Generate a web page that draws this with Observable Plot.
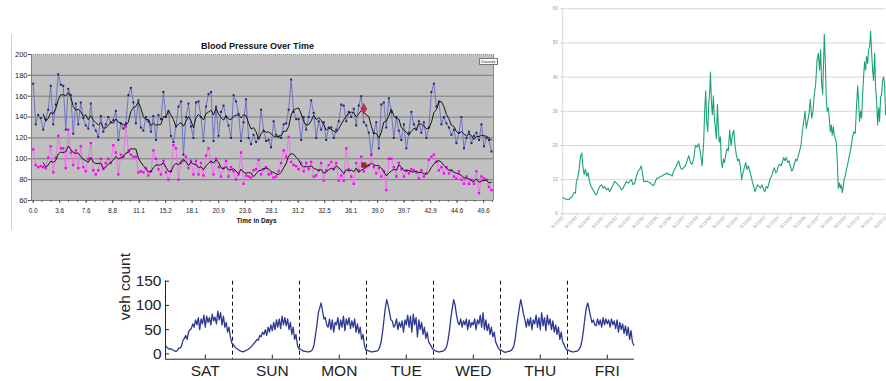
<!DOCTYPE html>
<html><head><meta charset="utf-8">
<script src="https://cdn.jsdelivr.net/npm/d3@7"></script>
<script src="https://cdn.jsdelivr.net/npm/@observablehq/plot@0.6"></script>
<style>
body{margin:0;background:#fff;width:886px;height:381px;position:relative;overflow:hidden;font-family:Arial,"Liberation Sans",sans-serif}
.abs{position:absolute}
svg{overflow:visible}
</style></head><body>
<div class="abs" style="left:11px;top:34px;height:196px;border-left:1px solid #cfcfcf"></div>
<div id="c1" class="abs" style="left:0;top:30px"></div>
<div class="abs" style="left:479px;top:58px;width:17px;height:5px;border:1px solid #777;background:#fff;font-size:4px;line-height:5px;color:#333;text-align:center;overflow:hidden">Diastolic</div>
<div id="c2" class="abs" style="left:540px;top:0"></div>
<div id="c3" class="abs" style="left:100px;top:265px"></div>
<script>
// ---------- Chart 1: Blood pressure ----------
const bpTitle = "Blood Pressure Over Time";
const bpXTitle = "Time in Days";
const timeLabels = ["0.0","3.6","7.6","8.8","11.1","15.2","18.1","20.9","23.6","28.1","31.2","32.5","36.1","39.0","39.7","42.9","44.6","49.6"];
const bpTicks = [60,80,100,120,140,160,180,200];
const systolic = [
172,133,142,139,128,138,147,170,133,152,
181,171,170,128,167,161,124,153,133,154,
139,132,129,153,132,127,121,141,126,133,
140,135,137,146,118,134,129,134,161,168,
154,134,156,130,127,140,136,126,141,118,
142,138,164,140,146,122,116,131,150,155,
104,140,153,131,120,154,155,140,117,150,
162,164,117,150,122,145,151,140,132,120,
161,155,143,117,135,157,120,114,123,116,
120,147,127,117,118,111,136,123,121,120,
133,134,147,176,145,138,
138,118,140,128,140,156,144,120,136,128,
135,118,130,130,120,128,136,152,151,136,
145,140,148,132,151,160,135,132,125,104,
125,135,110,152,154,130,158,145,120,140,
127,118,133,110,125,145,133,128,136,125,
135,120,130,164,172,150,155,133,140,134,
130,123,128,115,125,140,110,120,126,115,
122,125,118,133,112,120,118,107];
const diastolic = [
109,94,92,93,92,91,101,112,87,101,
122,110,110,91,128,106,94,108,91,112,
92,88,100,115,89,85,89,100,90,96,
100,96,113,106,85,104,102,131,108,104,
102,102,87,88,87,91,84,88,108,100,
90,85,98,87,80,88,113,110,80,96,
98,102,91,98,85,98,85,96,84,103,
110,97,85,100,92,83,91,98,83,92,
88,80,85,106,76,84,83,82,89,90,
99,85,90,92,85,86,82,83,88,96,
108,102,121,97,94,93,
90,96,88,96,90,97,83,84,89,96,
79,89,94,97,90,96,79,84,79,110,
90,83,76,96,89,102,88,92,94,104,
92,86,91,83,88,70,100,100,92,83,
96,90,83,89,86,90,89,87,81,89,
83,86,99,102,104,97,89,92,86,92,
86,89,83,81,88,80,76,83,76,80,
76,88,67,83,81,80,73,70];
const sysHighlight = [{i: 132, v: 148}];
const diaHighlight = [{i: 132, v: 94}];

const N = systolic.length;
const idx = (d, i) => i;
const xLo = -0.68, xHi = N - 1 + 0.8;
const labelStep = 10.58;
const xTickPos = timeLabels.map((_, k) => k * labelStep);
const xMinor = d3.range(0, xHi, labelStep / 3);
const c1 = Plot.plot({
  width: 510, height: 200,
  marginLeft: 31, marginRight: 17, marginTop: 24, marginBottom: 30,
  style: {fontFamily: "Arial, 'Liberation Sans', sans-serif", color: "#222", background: "transparent"},
  x: {type: "linear", domain: [xLo, xHi], label: null},
  y: {type: "linear", domain: [60, 200], label: null},
  marks: [
    Plot.frame({fill: "#c0c0c0", stroke: null}),
    Plot.ruleY(bpTicks.slice(1, -1), {stroke: "#7c7c7c", strokeWidth: 1}),
    Plot.ruleY([200], {stroke: "#8a8a8a", strokeDasharray: "1,1"}),
    Plot.ruleX([xHi], {stroke: "#8a8a8a"}),
    Plot.lineY(systolic, {x: idx, y: d => d, stroke: "#6e73c2", strokeWidth: 1}),
    Plot.dot(systolic, {x: idx, y: d => d, symbol: "square", r: 1.1, fill: "#1c1c78", stroke: null}),
    Plot.lineY(diastolic, {x: idx, y: d => d, stroke: "#f070f0", strokeWidth: 1}),
    Plot.dot(diastolic, {x: idx, y: d => d, symbol: "square", r: 1.35, fill: "#ff00ff", stroke: null}),
    Plot.lineY(systolic, Plot.windowY({k: 5, anchor: "end", strict: true}, {x: idx, y: d => d, stroke: "#141414", strokeWidth: 1})),
    Plot.lineY(diastolic, Plot.windowY({k: 5, anchor: "end", strict: true}, {x: idx, y: d => d, stroke: "#141414", strokeWidth: 1})),
    Plot.dot(sysHighlight, {x: "i", y: "v", symbol: "diamond", r: 3.6, fill: "#b8364e", stroke: null}),
    Plot.dot(diaHighlight, {x: "i", y: "v", symbol: "square", r: 3, fill: "#9e2236", stroke: null}),
    Plot.ruleX([xLo], {stroke: "#808080"}),
    Plot.ruleY([60], {stroke: "#808080"}),
    Plot.axisY({ticks: bpTicks, label: null, tickSize: 3, tickPadding: 1, fontSize: 7.5, stroke: "#555", fill: "#222"}),
    Plot.axisX({ticks: xMinor, label: null, tickFormat: () => "", tickSize: 2, stroke: "#666"}),
    Plot.axisX({ticks: xTickPos, label: null, tickFormat: (d, i) => timeLabels[i], tickSize: 3, tickPadding: 5, fontSize: 6.3, stroke: "#555", fill: "#222"}),
    Plot.text([bpTitle], {frameAnchor: "top", dy: -12, dx: -5, fontWeight: "bold", fontSize: 9, fill: "#111"}),
    Plot.text([bpXTitle], {frameAnchor: "bottom", dy: 22, dx: -6, fontWeight: "bold", fontSize: 6.5, fill: "#111"})
  ]
});
document.getElementById("c1").append(c1);

// ---------- Chart 2: long time series ----------
const dateLabels = ["5/15/88","5/15/89","5/15/90","5/15/91","5/15/92","5/15/93","5/15/94","5/15/95","5/15/96","5/15/97","5/15/98","5/15/99","5/15/00","5/15/01","5/15/02","5/15/03","5/15/04","5/15/05","5/15/06","5/15/07","5/15/08","5/15/09","5/15/10","5/15/11","5/15/12"];
const yearTicks = [1988.37,1989.37,1990.37,1991.37,1992.37,1993.37,1994.37,1995.37,1996.37,1997.37,1998.37,1999.37,2000.37,2001.37,2002.37,2003.37,2004.37,2005.37,2006.37,2007.37,2008.37,2009.37,2010.37,2011.37,2012.37];
const valueTicks = [0,10,20,30,40,50,60];
const greenT = [
1988.37,1988.57,1988.82,1989.06,1989.19,1989.31,1989.38,1989.48,1989.58,1989.68,
1989.78,1989.86,1989.95,1990.05,1990.15,1990.25,1990.35,1990.47,1990.62,1990.75,
1990.87,1991.0,1991.12,1991.24,1991.37,1991.49,1991.61,1991.74,1991.86,1991.98,
1992.11,1992.23,1992.36,1992.48,1992.6,1992.73,1992.85,1992.97,1993.1,1993.22,
1993.35,1993.47,1993.59,1993.72,1993.84,1993.96,1994.09,1994.19,1994.29,1994.38,
1994.51,1994.63,1994.76,1994.88,1995.0,1995.13,1995.25,1995.37,1995.5,1995.62,
1995.75,1995.87,1995.99,1996.12,1996.24,1996.37,1996.49,1996.61,1996.74,1996.86,
1996.98,1997.11,1997.23,1997.36,1997.48,1997.6,1997.73,1997.85,1997.97,1998.1,
1998.22,1998.35,1998.47,1998.59,1998.72,1998.84,1998.91,1998.99,1999.06,1999.14,
1999.21,1999.29,1999.34,1999.41,1999.48,1999.56,1999.63,1999.71,1999.78,1999.86,
1999.93,2000.0,2000.08,2000.15,2000.23,2000.3,2000.38,2000.47,2000.57,2000.67,
2000.77,2000.87,2000.97,2001.07,2001.17,2001.27,2001.37,2001.46,2001.56,2001.66,
2001.76,2001.86,2001.96,2002.06,2002.16,2002.26,2002.36,2002.45,2002.55,2002.65,
2002.75,2002.85,2002.95,2003.05,2003.17,2003.3,2003.39,2003.49,2003.59,2003.69,
2003.79,2003.89,2003.99,2004.09,2004.19,2004.29,2004.38,2004.48,2004.58,2004.68,
2004.78,2004.88,2004.98,2005.08,2005.18,2005.28,2005.38,2005.47,2005.57,2005.67,
2005.77,2005.87,2005.97,2006.07,2006.17,2006.27,2006.37,2006.46,2006.56,2006.66,
2006.76,2006.86,2006.96,2007.06,2007.16,2007.26,2007.36,2007.45,2007.53,2007.6,
2007.68,2007.75,2007.8,2007.88,2007.95,2008.02,2008.1,2008.17,2008.25,2008.32,
2008.39,2008.47,2008.54,2008.62,2008.69,2008.77,2008.84,2008.91,2008.99,2009.06,
2009.14,2009.21,2009.29,2009.36,2009.44,2009.51,2009.61,2009.71,2009.81,2009.9,
2010.0,2010.1,2010.2,2010.28,2010.35,2010.42,2010.5,2010.57,2010.65,2010.72,
2010.79,2010.87,2010.94,2011.02,2011.09,2011.17,2011.24,2011.32,2011.39,2011.46,
2011.54,2011.61,2011.69,2011.76,2011.84,2011.91,2011.98,2012.06,2012.13,2012.21,
2012.28,2012.36];
const greenV = [
4.7,4.3,4.2,5,6.2,6,9.5,10.5,13,16.5,
17.8,14,11.5,13,11,12,9.5,8,7,6,
5.5,7,8,8.5,7.5,8,7,7.5,6.5,7.5,
8.5,9.5,9,8.5,8,7,7.5,8.5,9.5,9,
9.5,10,8.5,9,11,12.5,13,14,12,9.5,
9.5,9.5,9.2,9,8.5,8.2,9.5,10.5,10.5,11,
11,11.5,11.5,12,11.5,11.5,11,12.5,13.5,14.5,
15.5,13.5,13,13.5,14,15.5,17,15,14.5,16,
20,19.5,20.5,18,14,21,30,36,27,24,
32,36,41.5,33,29,34.5,28,25,22,32,
25,21,22.5,15,13.5,16,15,17,19,18.5,
24.5,20,23,24.5,20,17,15.5,16,14,10,
12,13.5,15,13,14,12.5,11,9.5,8,6.5,
7.5,8.5,8,7.5,8.5,7,6.5,8,7.5,9,
10.5,11,12.5,13.5,12,12.5,14,14.5,14,15,
16.5,15.5,16.5,15,15.5,14,12.5,13,14.5,16,
15.5,17,18.5,20,24,27,30,25,27,29,
33.5,28,30,35,38,45,47,42,48,38,
35,45,52.5,44,33,30,31,28,24,26,
23,25.5,23,22,21,15,7.5,9,7.5,8.5,
6.2,8,10.5,11,13,14,16,18,20,22.5,
24,23.5,32,37.5,33,27,30,28,35,40,
44.5,42,46,44,48,49,53.5,47,42,39,
47,37,33,26,31,27,34,35,39,40,
38,29];
const x2lo = yearTicks[0], x2hi = yearTicks[yearTicks.length - 1];
const c2 = Plot.plot({
  width: 346, height: 230,
  marginLeft: 22.3, marginRight: 0.7, marginTop: 8.3, marginBottom: 16.7,
  style: {fontFamily: "Arial, 'Liberation Sans', sans-serif", background: "transparent"},
  x: {domain: [x2lo, x2hi], label: null},
  y: {domain: [0, 60], label: null},
  marks: [
    Plot.ruleY(valueTicks, {stroke: "#d6d6d6", strokeWidth: 1}),
    Plot.ruleX([x2lo], {stroke: "#d6d6d6"}),
    Plot.axisY({ticks: valueTicks, label: null, tickSize: 2, tickPadding: 3, fontSize: 4.6, stroke: "#cfcfcf", fill: "#9a9a9a"}),
    Plot.axisX({ticks: yearTicks, label: null, tickFormat: (d, i) => dateLabels[i], tickSize: 2, tickPadding: 1, tickRotate: -45, fontSize: 4.6, stroke: "#cfcfcf", fill: "#a5a5a5"}),
    Plot.line(greenT, {x: d => d, y: (d, i) => greenV[i], stroke: "#1ba277", strokeWidth: 1.1})
  ]
});
document.getElementById("c2").append(c2);

// ---------- Chart 3: vehicle counts (half-hourly samples) ----------
const days = ["SAT","SUN","MON","TUE","WED","THU","FRI"];
const yLabel3 = "veh count";
const countTicks = [0,50,100,150];
const sat = [15,12,10,11,9,8,6,5,7,12,12,16,28,32,38,30,45,50,52,62,55,70,60,75,50,72,62,80,55,78,65,75,60,82,68,76,62,88,70,85,60,78,55,65,45,55,35,22];
const sun = [20,15,12,10,8,6,5,4,5,7,8,10,12,15,18,22,25,30,28,38,35,45,40,50,38,55,45,60,48,65,50,70,55,72,52,78,60,75,58,72,50,65,40,55,30,40,18,10];
const mon = [10,8,6,5,5,4,4,5,6,10,20,40,60,85,95,105,88,72,75,60,55,72,50,70,45,65,60,75,50,70,55,78,48,72,60,75,52,68,55,72,45,62,42,55,30,40,18,8];
const tue = [8,6,5,4,4,5,5,6,8,14,25,45,70,95,112,100,85,70,68,55,60,72,50,65,55,68,45,70,60,80,55,78,45,82,60,75,35,70,50,65,40,55,32,45,25,20,15,10];
const wed = [8,6,5,4,4,5,5,7,10,16,30,50,75,95,112,100,80,65,60,72,55,68,60,72,50,70,55,65,60,72,50,70,62,80,55,85,50,70,48,62,40,55,35,45,25,18,12,8];
const thu = [8,6,4,3,4,5,5,7,10,16,30,55,75,95,112,98,82,70,55,72,58,75,50,70,62,80,55,75,50,85,58,75,48,80,60,72,50,68,45,60,40,55,30,45,25,20,12,8];
const fri = [8,6,5,4,4,5,5,7,10,16,30,50,75,95,105,92,78,65,70,60,58,72,60,70,55,75,60,72,62,70,55,72,60,68,52,70,45,65,50,62,42,58,38,55,30,48,25,18];
const traffic = [...sat, ...sun, ...mon, ...tue, ...wed, ...thu, ...fri];
const perDay = sat.length;
const x3lo = -0.5, x3hi = traffic.length - 0.5;
const y3lo = -11;
const dayBounds = days.slice(1).map((_, k) => (k + 1) * perDay - 0.5);
const dayTicks = days.map((_, k) => k * perDay + 28);
const c3 = Plot.plot({
  width: 540, height: 116,
  marginLeft: 65, marginRight: 6, marginTop: 15.7, marginBottom: 22.3,
  style: {fontFamily: "'Liberation Sans', Arial, Helvetica, sans-serif", background: "transparent"},
  x: {domain: [x3lo, x3hi], label: null},
  y: {domain: [y3lo, 150], label: null},
  marks: [
    Plot.ruleX(dayBounds, {stroke: "#111", strokeDasharray: "4,3", strokeWidth: 1}),
    Plot.lineY(traffic, {x: idx, y: d => d, stroke: "#2c3892", strokeWidth: 1.3}),
    Plot.ruleX([x3lo], {stroke: "#222"}),
    Plot.ruleY([y3lo], {stroke: "#222"}),
    Plot.axisY({ticks: countTicks, label: null, tickSize: -4, tickPadding: 8, fontSize: 15.5, stroke: "#222", fill: "#222"}),
    Plot.axisX({ticks: dayTicks, label: null, tickFormat: (d, i) => days[i], tickSize: -4, tickPadding: 9.5, fontSize: 15.5, stroke: "#222", fill: "#222"}),
    Plot.text([yLabel3], {frameAnchor: "left", rotate: -90, dx: -40, fontSize: 15.5, fill: "#222"})
  ]
});
document.getElementById("c3").append(c3);
</script>
</body></html>
